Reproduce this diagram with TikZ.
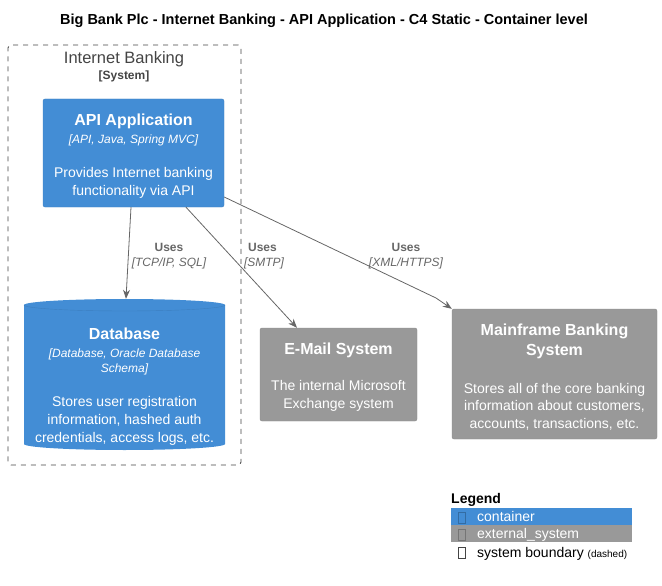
\documentclass[tikz,border=0pt]{standalone}
\usepackage{fontspec}
\setmainfont{Liberation Sans}
\usetikzlibrary{arrows.meta}
\definecolor{contblue}{HTML}{438DD5}
\definecolor{contline}{HTML}{3C7FC0}
\definecolor{extgray}{HTML}{999999}
\definecolor{extline}{HTML}{8A8A8A}
\definecolor{relgray}{HTML}{666666}
\definecolor{bndgray}{HTML}{444444}
\newcommand{\boxtitle}[1]{{\bfseries\fontsize{16}{17}\selectfont #1}}
\newcommand{\boxtech}[1]{{\itshape\fontsize{12}{17}\selectfont #1}}

\begin{document}
\begin{tikzpicture}[x=1pt,y=-1pt]
\tikzstyle{container}=[rectangle,rounded corners=2pt,fill=contblue,draw=contline,inner sep=0pt]
\tikzstyle{extsys}=[container,fill=extgray,draw=extline]
\tikzstyle{boxtext}=[text=white,align=center,inner sep=0pt,font=\fontsize{14}{17.5}\selectfont]
\tikzstyle{rel}=[-{Stealth[length=9pt,width=7pt]},relgray,line width=0.8pt]
\tikzstyle{rellbl}=[relgray,anchor=base,inner sep=0pt,font=\bfseries\fontsize{12}{14}\selectfont]
\tikzstyle{reltech}=[relgray,anchor=base,inner sep=0pt,font=\itshape\fontsize{12}{14}\selectfont]
\tikzstyle{legbar}=[minimum width=181pt,minimum height=17pt,anchor=north west,inner sep=0pt]
\tikzstyle{legglyph}=[draw,minimum width=7pt,minimum height=11pt,inner sep=0pt,line width=0.6pt]
\tikzstyle{legtext}=[anchor=base west,inner sep=0pt,font=\fontsize{14}{17}\selectfont]

\useasboundingbox (0,0) rectangle (662,586);

% Title
\node[anchor=base,font=\bfseries\fontsize{14.5}{17}\selectfont] (title) at (324,25)
  {Big Bank Plc - Internet Banking - API Application - C4 Static - Container level};

% System boundary
\node[draw=bndgray,line width=0.9pt,dash pattern=on 5pt off 5pt,rounded corners=3pt,minimum width=233pt,minimum height=420pt] (ibank) at (124.5,255) {};
\node[anchor=base,bndgray,font=\fontsize{16.5}{18}\selectfont] (ibanktitle) at (124,64) {Internet Banking};
\node[anchor=base,bndgray,font=\bfseries\fontsize{12}{14}\selectfont] (ibanksys) at (124,80) {[System]};

% API application
\node[container,minimum width=181pt,minimum height=108pt] (api) at (133.5,153) {};
\node[boxtext] (apitxt) at (133.5,156)
  {\boxtitle{API Application}\\\boxtech{[API, Java, Spring MVC]}\\[17pt]
   Provides Internet banking\\functionality via API};

% Database (cylinder)
\fill[contblue] (24,305) -- (24,444) arc[start angle=180,end angle=360,x radius=100.5pt,y radius=6pt]
  -- (225,305) arc[start angle=0,end angle=180,x radius=100.5pt,y radius=6pt] -- cycle;
\draw[contline] (24,305) arc[start angle=180,end angle=360,x radius=100.5pt,y radius=6pt];
\node[minimum width=201pt,minimum height=151pt] (db) at (124.5,374.5) {};
\node[boxtext,font=\fontsize{14}{18}\selectfont] (dbtxt) at (124.5,387)
  {\boxtitle{Database}\\\boxtech{[Database, Oracle Database}\\[-3pt]\boxtech{Schema]}\\[16pt]
   Stores user registration\\information, hashed auth\\credentials, access logs, etc.};

% External systems
\node[extsys,minimum width=157pt,minimum height=93pt] (email) at (338.5,374.5) {};
\node[boxtext] (emailtxt) at (338.5,377)
  {\boxtitle{E-Mail System}\\[19pt]The internal Microsoft\\Exchange system};
\node[extsys,minimum width=205pt,minimum height=130pt] (mainframe) at (554.5,374) {};
\node[boxtext] (mainframetxt) at (554.5,377)
  {\boxtitle{Mainframe Banking}\\[3pt]\boxtitle{System}\\[20pt]
   Stores all of the core banking\\information about customers,\\accounts, transactions, etc.};

% Relations
\draw[rel] ([xshift=-2.5pt]api.south) -- ([xshift=1.5pt]db.north);
\node[rellbl] (uses1) at (169,251) {Uses};
\node[reltech] (tech1) at (169,266) {[TCP/IP, SQL]};

\draw[rel] ([xshift=52.5pt]api.south) -- ([xshift=-41.5pt]email.north);
\node[rellbl] (uses2) at (262.5,251) {Uses};
\node[reltech] (tech2) at (264,266) {[SMTP]};

\coordinate (mfbend) at (436,298);
\draw[rel] ([yshift=-44pt]api.east) -- (mfbend) -- (mainframe.north west);
\node[rellbl] (uses3) at (406,251) {Uses};
\node[reltech] (tech3) at (406,266) {[XML/HTTPS]};

% Legend
\node[anchor=base west,inner sep=0pt,font=\bfseries\fontsize{14}{17}\selectfont] (legend) at (451,503) {Legend};
\node[legbar,fill=contblue] (legc) at (451,508) {};
\node[legbar,fill=extgray] (legx) at (451,525) {};
\node[legglyph,draw=contline!85!black] (glyc) at (462,517.5) {};
\node[legglyph,draw=extline!85!black] (glyx) at (462,534.5) {};
\node[legglyph,draw=bndgray] (glyb) at (462,553) {};
\node[legtext,text=white] (ltc) at (477,521) {container};
\node[legtext,text=white] (ltx) at (477,538) {external\_system};
\node[legtext] (ltb) at (477,557) {system boundary {\fontsize{10}{12}\selectfont (dashed)}};
\end{tikzpicture}
\end{document}
